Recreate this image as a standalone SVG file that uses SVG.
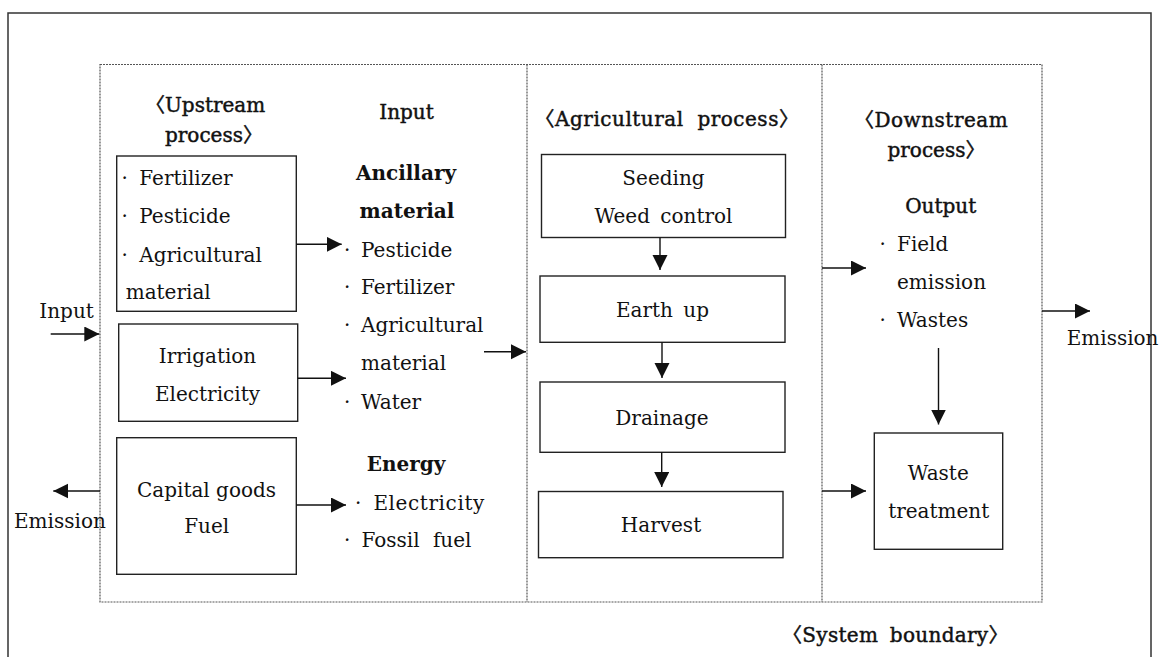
<svg xmlns="http://www.w3.org/2000/svg" width="1164" height="657" viewBox="0 0 1164 657">
<defs>
<style>
text{font-family:"DejaVu Serif","Noto Sans CJK KR",serif;font-size:20px;fill:#111;}
.c{text-anchor:middle;}
.semi{stroke:#111;stroke-width:0.45px;}
.b{font-weight:bold;}
.box{fill:none;stroke:#222;stroke-width:1.4;}
.dot{fill:none;stroke:#555;stroke-width:1.2;stroke-dasharray:2 1;}
.conn{fill:none;stroke:#111;stroke-width:1.4;}
</style>
<marker id="ah" markerUnits="userSpaceOnUse" markerWidth="16" markerHeight="16" refX="15" refY="7.5" orient="auto">
<path d="M0,0 L15,7.5 L0,15 z" fill="#111"/>
</marker>
</defs>
<rect width="1164" height="657" fill="#fff"/>
<g id="frame">
<rect x="8" y="13" width="1143" height="680" fill="none" stroke="#333" stroke-width="1.5"/>
<rect class="dot" x="100" y="64.5" width="942" height="537.5"/>
<line class="dot" x1="527" y1="64.5" x2="527" y2="602"/>
<line class="dot" x1="822" y1="64.5" x2="822" y2="602"/>
</g>
<g id="upstream-heading">
<text class="semi" x="145" y="111.7">〈Upstream</text>
<text class="semi" x="165" y="141.5">process〉</text>
</g>
<g id="upstream-materials">
<rect class="box" x="116.7" y="156" width="179.6" height="155.3"/>
<text x="121.5" y="185">· <tspan x="139.3">Fertilizer</tspan></text>
<text x="121.5" y="223.3">· <tspan x="139.3">Pesticide</tspan></text>
<text x="121.5" y="261.7">· <tspan x="139.3">Agricultural</tspan></text>
<text x="125.7" y="299">material</text>
</g>
<g id="upstream-irrigation">
<rect class="box" x="118.7" y="324" width="179" height="97.3"/>
<text class="c" x="207.5" y="363.3">Irrigation</text>
<text class="c" x="207.5" y="401">Electricity</text>
</g>
<g id="upstream-capital">
<rect class="box" x="116.7" y="437.7" width="179.6" height="136.6"/>
<text class="c" x="206.5" y="496.7">Capital goods</text>
<text class="c" x="206.7" y="533.3">Fuel</text>
</g>
<g id="input-list">
<text class="c semi" x="406.5" y="119.3">Input</text>
<text class="c b" x="406" y="180">Ancillary</text>
<text class="c b" x="407" y="218.3">material</text>
<text x="344" y="256.7">· <tspan x="361">Pesticide</tspan></text>
<text x="344" y="294">· <tspan x="361">Fertilizer</tspan></text>
<text x="344" y="331.7">· <tspan x="361">Agricultural</tspan></text>
<text x="361" y="370">material</text>
<text x="344" y="409.3">· <tspan x="361">Water</tspan></text>
<text class="c b" x="406" y="471">Energy</text>
<text x="355" y="510">· <tspan x="373.4" letter-spacing="0.6">Electricity</tspan></text>
<text x="344" y="547">· <tspan x="361.4" word-spacing="7">Fossil fuel</tspan></text>
</g>
<g id="agri-heading">
<text class="c semi" x="667" y="125.7" word-spacing="7" letter-spacing="0.5">〈Agricultural process〉</text>
</g>
<g id="seeding">
<rect class="box" x="541.5" y="154.5" width="244" height="83"/>
<text class="c" x="663.5" y="185">Seeding</text>
<text class="c" x="663.5" y="222.7" word-spacing="4">Weed control</text>
</g>
<g id="earthup">
<rect class="box" x="540" y="276" width="245" height="66.3"/>
<text class="c" x="662.5" y="316.7" word-spacing="4">Earth up</text>
</g>
<g id="drainage">
<rect class="box" x="540" y="382" width="245" height="70.3"/>
<text class="c" x="662" y="425">Drainage</text>
</g>
<g id="harvest">
<rect class="box" x="538.5" y="491.5" width="244.5" height="66.2"/>
<text class="c" x="661" y="532.3">Harvest</text>
</g>
<g id="downstream-heading">
<text class="semi" x="854" y="127" letter-spacing="0.5">〈Downstream</text>
<text class="semi" x="887.5" y="157">process〉</text>
</g>
<g id="output-list">
<text class="c semi" x="940.7" y="212.5">Output</text>
<text x="879.5" y="250.7">· <tspan x="897">Field</tspan></text>
<text x="897" y="288.6">emission</text>
<text x="879.5" y="326.8">· <tspan x="897">Wastes</tspan></text>
</g>
<g id="waste-treatment">
<rect class="box" x="874.3" y="433" width="128.4" height="116.3"/>
<text class="c" x="938.3" y="480">Waste</text>
<text class="c" x="938.7" y="518.3">treatment</text>
</g>
<g id="labels">
<text x="39.3" y="318.3">Input</text>
<text x="14" y="528.3">Emission</text>
<text x="1066.7" y="344.6">Emission</text>
<text class="semi" x="782" y="641.7" word-spacing="5" letter-spacing="0.3">〈System boundary〉</text>
</g>
<g id="connectors">
<line class="conn" x1="50.7" y1="334" x2="99.3" y2="334" marker-end="url(#ah)"/>
<line class="conn" x1="100" y1="491" x2="53.3" y2="491" marker-end="url(#ah)"/>
<line class="conn" x1="296.3" y1="244.3" x2="341.7" y2="244.3" marker-end="url(#ah)"/>
<line class="conn" x1="297.7" y1="378.3" x2="346" y2="378.3" marker-end="url(#ah)"/>
<line class="conn" x1="296.3" y1="505" x2="346" y2="505" marker-end="url(#ah)"/>
<line class="conn" x1="484" y1="351.7" x2="526" y2="351.7" marker-end="url(#ah)"/>
<line class="conn" x1="660" y1="237.5" x2="660" y2="270" marker-end="url(#ah)"/>
<line class="conn" x1="662" y1="342.3" x2="662" y2="378" marker-end="url(#ah)"/>
<line class="conn" x1="661.7" y1="452.3" x2="661.7" y2="487" marker-end="url(#ah)"/>
<line class="conn" x1="822" y1="268" x2="866" y2="268" marker-end="url(#ah)"/>
<line class="conn" x1="822" y1="491" x2="866" y2="491" marker-end="url(#ah)"/>
<line class="conn" x1="938.5" y1="348" x2="938.5" y2="424.5" marker-end="url(#ah)"/>
<line class="conn" x1="1042" y1="311" x2="1090" y2="311" marker-end="url(#ah)"/>
</g>
</svg>
